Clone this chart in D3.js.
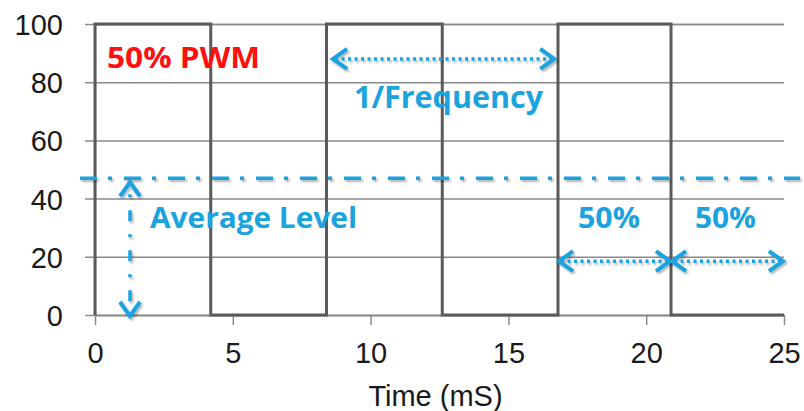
<!DOCTYPE html>
<html>
<head>
<meta charset="utf-8">
<script src="https://cdn.jsdelivr.net/npm/d3@7"></script>
<style>
  body { margin: 0; background: #fff; }
  .tick text { font-family: "Liberation Sans", Arial, sans-serif; fill: #1a1a1a; }
  .note { font-family: "Open Sans", sans-serif; font-weight: bold; }
</style>
</head>
<body>
<div id="chart"></div>
<script>
// PWM signal: edge times (ms) and the level held after each edge
var edgeTimes = [0, 0, 4.2, 8.4, 12.6, 16.8, 20.9, 25];
var edgeLevels = [0, 100, 0, 100, 0, 100, 0, 0];

var xTicks = [0, 5, 10, 15, 20, 25];
var yTicks = [0, 20, 40, 60, 80, 100];

var avgLevel = 47;
var avgArrowTime = 1.27;
var freqArrow = [8.6, 16.7], freqArrowLevel = 88;
var halfArrows = [[16.8, 20.9], [20.9, 25]], halfArrowLevel = 18.5;

var W = 804, H = 411;
var margin = {top: 24, right: 20, bottom: 96, left: 95};
var width = W - margin.left - margin.right;
var height = H - margin.top - margin.bottom;
var blue = "#1aa3df";

var xScale = d3.scaleLinear().domain([0, 25]).range([0, width]),
    yScale = d3.scaleLinear().domain([0, 100]).range([height, 0]);

var svg = d3.select("#chart").append("svg")
    .attr("width", W)
    .attr("height", H);

var defs = svg.append("defs");
var f = defs.append("filter").attr("id", "shadow")
    .attr("filterUnits", "userSpaceOnUse")
    .attr("x", -200).attr("y", -200).attr("width", 1200).attr("height", 800);
f.append("feDropShadow").attr("dx", 1.5).attr("dy", 2).attr("stdDeviation", 1.2)
    .attr("flood-color", "#000").attr("flood-opacity", 0.3);

var g = svg.append("g").attr("transform", "translate(" + margin.left + "," + margin.top + ")");

// y axis with gridlines
var yy = g.append("g")
    .attr("class", "yaxis")
    .call(d3.axisLeft(yScale).tickValues(yTicks).tickSize(-width).tickPadding(32));
yy.select(".domain").attr("stroke", "#8a8a8a").attr("stroke-width", 1.5);
yy.selectAll(".tick line").attr("x1", -10).attr("stroke", "#8a8a8a").attr("stroke-width", 1.5);
yy.selectAll(".tick text").style("font-size", "29px").attr("dy", "0.36em");

// x axis
var xx = g.append("g")
    .attr("class", "xaxis")
    .attr("transform", "translate(0," + height + ")")
    .call(d3.axisBottom(xScale).tickValues(xTicks).tickSize(10).tickSizeOuter(0).tickPadding(17));
xx.select(".domain").attr("stroke", "#8a8a8a").attr("stroke-width", 1.5);
xx.selectAll(".tick line").attr("stroke", "#8a8a8a").attr("stroke-width", 1.5);
xx.selectAll(".tick text").style("font-size", "29px");

xx.append("text")
  .attr("x", xScale(12.5) - 4)
  .attr("y", 91)
  .attr("text-anchor", "middle")
  .style("font-family", "'Liberation Sans', Arial, sans-serif")
  .style("font-size", "29px")
  .attr("fill", "#1a1a1a")
  .text("Time (mS)");

// the PWM waveform
var pts = edgeTimes.map(function(t, i) { return [t, edgeLevels[i]]; });
g.append("path")
  .datum(pts)
  .attr("fill", "none")
  .attr("stroke", "#5a5a5a")
  .attr("stroke-width", 3)
  .attr("d", d3.line()
      .x(function(d) { return xScale(d[0]); })
      .y(function(d) { return yScale(d[1]); })
      .curve(d3.curveStepAfter));

// average level line
g.append("line")
  .attr("x1", -15).attr("x2", width + 16)
  .attr("y1", yScale(avgLevel)).attr("y2", yScale(avgLevel))
  .attr("stroke", blue).attr("stroke-width", 3.5)
  .attr("stroke-dasharray", "17 11 4 12")
  .attr("filter", "url(#shadow)");

function chevron(x, y, dir) {
  var s = 10, d = 14;
  var p;
  if (dir == "l") p = [[x + d, y - s], [x, y], [x + d, y + s]];
  if (dir == "r") p = [[x - d, y - s], [x, y], [x - d, y + s]];
  if (dir == "u") p = [[x - s, y + d], [x, y], [x + s, y + d]];
  if (dir == "d") p = [[x - s, y - d], [x, y], [x + s, y - d]];
  return "M" + p.map(function(q) { return q.join(","); }).join("L");
}

function hArrow(t0, t1, lv) {
  var a = g.append("g").attr("filter", "url(#shadow)");
  var x0 = xScale(t0), x1 = xScale(t1), y = yScale(lv);
  a.append("line").attr("x1", x0 + 3).attr("x2", x1 - 3).attr("y1", y).attr("y2", y)
    .attr("stroke", blue).attr("stroke-width", 3.5).attr("stroke-dasharray", "3 3.5");
  a.append("path").attr("d", chevron(x0 + 1, y, "l")).attr("fill", "none")
    .attr("stroke", blue).attr("stroke-width", 4);
  a.append("path").attr("d", chevron(x1 - 1, y, "r")).attr("fill", "none")
    .attr("stroke", blue).attr("stroke-width", 4);
}

hArrow(freqArrow[0], freqArrow[1], freqArrowLevel);
halfArrows.forEach(function(h) { hArrow(h[0], h[1], halfArrowLevel); });

// vertical arrow for average level
var va = g.append("g").attr("filter", "url(#shadow)");
var vx = xScale(avgArrowTime);
va.append("line").attr("x1", vx).attr("x2", vx)
  .attr("y1", yScale(avgLevel) + 16).attr("y2", yScale(0) - 4)
  .attr("stroke", blue).attr("stroke-width", 3.5).attr("stroke-dasharray", "3 13 11 13");
va.append("path").attr("d", chevron(vx, yScale(avgLevel) + 4, "u")).attr("fill", "none")
  .attr("stroke", blue).attr("stroke-width", 4);
va.append("path").attr("d", chevron(vx, yScale(0) + 1, "d")).attr("fill", "none")
  .attr("stroke", blue).attr("stroke-width", 4);

// text annotations
function note(txt, x, y, len, size, color) {
  g.append("text").attr("class", "note")
    .attr("x", x - margin.left).attr("y", y - margin.top)
    .attr("fill", color).style("font-size", size + "px")
    .attr("textLength", len).attr("lengthAdjust", "spacingAndGlyphs")
    .text(txt);
}
note("50% PWM", 107, 68, 153, 28, "#ff1010");
note("1/Frequency", 354, 108, 189, 30, blue);
note("Average Level", 150, 228, 207, 28, blue);
note("50%", 578, 228, 62, 28, blue);
note("50%", 695, 228, 61, 28, blue);
</script>
</body>
</html>
